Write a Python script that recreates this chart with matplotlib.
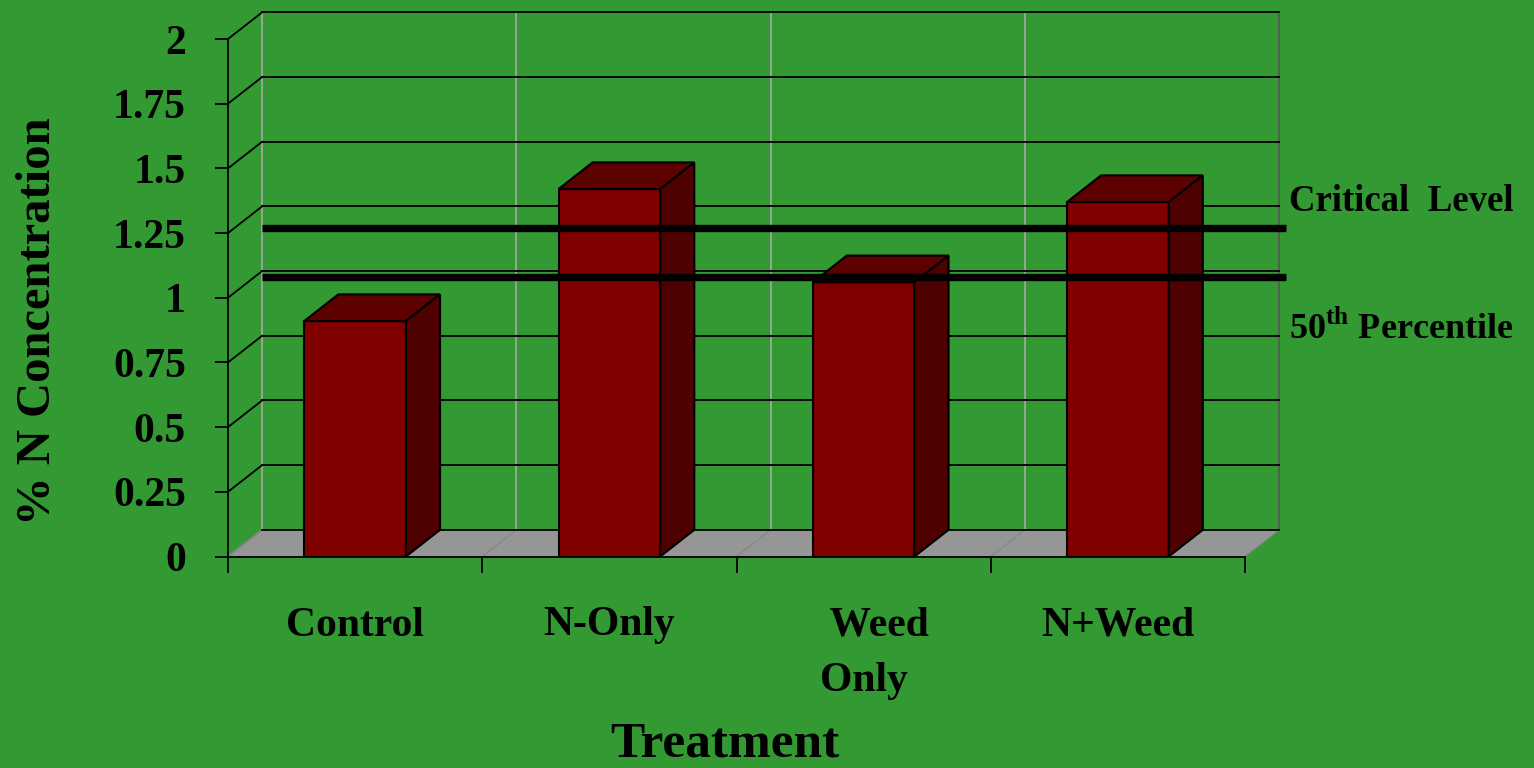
import matplotlib.pyplot as plt
import numpy as np
from matplotlib.patches import Polygon

# nitrogen concentration by treatment
treatments = ['Control', 'N-Only', '   Weed\nOnly', 'N+Weed']
n_conc = [0.91, 1.42, 1.06, 1.37]

# reference levels
critical_level = 1.27
percentile_50 = 1.08

y_ticks = [0, 0.25, 0.5, 0.75, 1, 1.25, 1.5, 1.75, 2]
y_labels = ['0', '0.25', '0.5', '0.75', '1', '1.25', '1.5', '1.75', '2']

plt.rcParams['font.family'] = 'Liberation Serif'
plt.rcParams['font.weight'] = 'bold'
plt.rcParams['axes.labelweight'] = 'bold'
plt.rcParams['mathtext.fontset'] = 'custom'
plt.rcParams['mathtext.bf'] = 'Liberation Serif:bold'

green = '#339933'
fig = plt.figure(figsize=(15.34, 7.68), dpi=100, facecolor=green)
ax = fig.add_axes([228 / 1534, 1 - 556.5 / 768, 1017 / 1534, 517.5 / 768])
ax.set_facecolor('none')
ax.set_xlim(0, 4)
ax.set_ylim(0, 2)

# depth of the pseudo 3-D box, in data units
dx, dy = 0.134, 0.103
ncat = len(treatments)

# floor
ax.add_patch(Polygon([(0, 0), (ncat, 0), (ncat + dx, dy), (dx, dy)],
                     closed=True, fc='#969696', ec='none', zorder=0.5, clip_on=False))
for i in range(ncat + 1):
    ax.plot([i, i + dx], [0, dy], color='#858585', lw=0.8, zorder=0.6, clip_on=False)

# back wall and side wall gridlines
for v in y_ticks:
    side_col = '#858585' if v == 0 else 'black'
    ax.plot([0, dx], [v, v + dy], color=side_col, lw=1.3, zorder=1, clip_on=False)
    ax.plot([dx, ncat + dx], [v + dy, v + dy], color='black', lw=1.3, zorder=1, clip_on=False)
for i in range(ncat + 1):
    col = '#555555' if i == ncat else '#a8a8a8'
    ax.plot([i + dx, i + dx], [dy, 2 + dy], color=col, lw=1.2, zorder=0.9, clip_on=False)

# bars: front faces plus top and side faces
w = 0.40
xs = np.arange(ncat) + 0.5
ax.bar(xs, n_conc, width=w, color='#800000', edgecolor='black', linewidth=1.5, zorder=3)
for x, h in zip(xs, n_conc):
    x0, x1 = x - w / 2, x + w / 2
    ax.add_patch(Polygon([(x0, h), (x1, h), (x1 + dx, h + dy), (x0 + dx, h + dy)],
                         closed=True, fc='#5c0000', ec='black', lw=1.5, zorder=3, clip_on=False))
    ax.add_patch(Polygon([(x1, 0), (x1 + dx, dy), (x1 + dx, h + dy), (x1, h)],
                         closed=True, fc='#4f0000', ec='black', lw=1.5, zorder=3, clip_on=False))

# reference lines
for lvl in [critical_level, percentile_50]:
    ax.plot([dx, 4.16], [lvl, lvl], color='black', lw=5.3, solid_capstyle='butt',
            zorder=5, clip_on=False)

# axes
for s in ['top', 'right']:
    ax.spines[s].set_visible(False)
for s in ['left', 'bottom']:
    ax.spines[s].set_linewidth(1.3)
    ax.spines[s].set_zorder(4)

ax.set_yticks(y_ticks, y_labels)
ax.tick_params(axis='y', direction='out', length=9.4, width=1.3, pad=21, labelsize=30)
ax.set_xticks(range(ncat + 1))
ax.set_xticks(xs, treatments, minor=True)
ax.tick_params(axis='x', which='major', direction='out', length=11.5, width=1.3, labelbottom=False)
ax.tick_params(axis='x', which='minor', length=0, pad=36, labelsize=30)
for lab in ax.get_xticklabels(minor=True):
    lab.set_linespacing(1.6)

ax.set_ylabel('% N Concentration', fontsize=35)
ax.yaxis.set_label_coords(-0.165, 0.455)
fig.text(725 / 1534, 0.001, 'Treatment', fontsize=37, ha='center', va='bottom')

# labels for the reference lines
fig.text(1289 / 1534, 1 - 211 / 768, 'Critical  Level', fontsize=26.5, va='baseline')
fig.text(1289 / 1534, 1 - 338 / 768, r'50$^{\mathbf{th}}$ Percentile', fontsize=26,
         va='baseline')

fig.savefig('out.png', dpi=100, facecolor=green)
